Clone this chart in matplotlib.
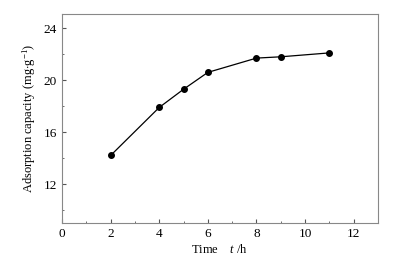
import matplotlib.pyplot as plt
from matplotlib.ticker import MultipleLocator

plt.rcParams['font.family'] = ['Liberation Serif', 'DejaVu Serif']
plt.rcParams['mathtext.fontset'] = 'custom'
plt.rcParams['mathtext.rm'] = 'Liberation Serif'
plt.rcParams['mathtext.it'] = 'Liberation Serif:italic'

# measured points
time_h = [2, 4, 5, 6, 8, 9, 11]
capacity = [14.2, 17.9, 19.3, 20.6, 21.7, 21.8, 22.1]

fig = plt.figure(figsize=(4.0, 2.63), dpi=100)
ax = fig.add_axes([0.155, 0.152, 0.79, 0.795])

ax.plot(time_h, capacity, '-o', color='black', lw=0.9, ms=4)

ax.set_xlim(0, 13)
ax.set_ylim(9, 25.1)
ax.xaxis.set_major_locator(MultipleLocator(2))
ax.xaxis.set_minor_locator(MultipleLocator(1))
ax.yaxis.set_major_locator(MultipleLocator(4))
ax.yaxis.set_minor_locator(MultipleLocator(2))
ax.set_yticks([12, 16, 20, 24])
ax.tick_params(which='both', direction='in', labelsize=9.5, color='#555555')
ax.tick_params(which='major', length=3)
ax.tick_params(which='minor', length=1.5)
ax.tick_params(top=False, right=False, which='both')
for s in ax.spines.values():
    s.set_color('#888888')
    s.set_linewidth(0.8)

ax.set_xlabel('Time    $\\mathit{t}$ /h', fontsize=9, labelpad=2)
ax.set_ylabel('Adsorption capacity (mg$\\cdot$g$^{-1}$)', fontsize=9, labelpad=4)

fig.savefig('out.png', dpi=100)
